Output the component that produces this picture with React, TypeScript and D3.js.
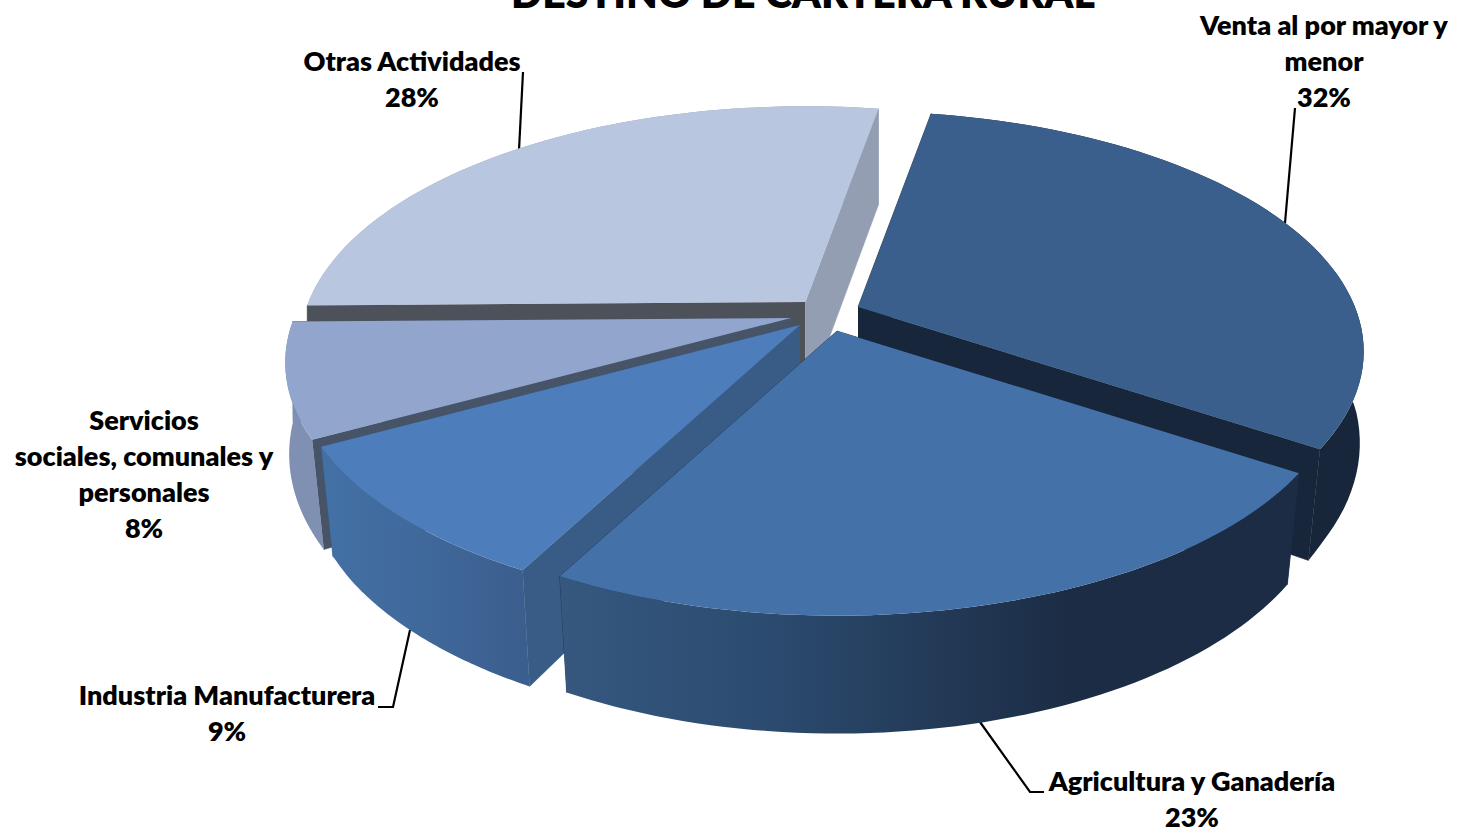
import * as d3 from 'd3';

const categories = ['Venta al por mayor y menor', 'Agricultura y Ganadería', 'Industria Manufacturera', 'Servicios sociales, comunales y personales', 'Otras Actividades'];
const values = [31.5, 23.45, 9.33, 7.7, 28.02];
const titleText = 'DESTINO DE CARTERA RURAL';

// label line breaks as they wrap in the chart
const labelLines = [
  ['Venta al por mayor y', 'menor'],
  ['Agricultura y Ganadería'],
  ['Industria Manufacturera'],
  ['Servicios', 'sociales, comunales y', 'personales'],
  ['Otras Actividades'],
];
const labelPos = [[1324, 26], [1192, 782], [227, 696], [144, 421], [412, 62]];
const leaders = [
  [[1295, 108], [1285, 223]],
  [[1044, 792], [1030, 792], [980, 722]],
  [[378, 707], [393, 707], [410, 630]],
  null,
  [[523, 72], [519, 150]],
];

// where each exploded slice's tip ends up
const apex = [[858, 307], [837, 331], [800, 325], [791, 318], [805.5, 302]];

const topColors = ['#3a5f8c', '#4471a8', '#4d7dba', '#92a6cd', '#b9c6df'];
const outerWall = ['#17263a', 'url(#agri)', 'url(#indu)', '#7f90b2', '#949eb2'];
const startWall = ['#17263a', '#1b2c44', '#395c87', '#475468', '#4d5159'];
const endWall = ['#17263a', '#1b2c44', '#395c87', '#475468', '#949eb2'];
const drawOrder = [4, 3, 0, 2, 1];

const Rx = 497;
const Ry = 232;
const persp = 0.185;
const startDeg = 10;

const wallHeight = d3.scaleLinear().domain([0.845, 1, 1.115, 1.227]).range([96, 100, 115, 125]);
const wallShrink = d3.scaleLinear().domain([1, 1.1]).range([1, 0.975]).clamp(true);

const pie = d3.pie<number>().sort(null).startAngle((startDeg * Math.PI) / 180).endAngle(((startDeg + 360) * Math.PI) / 180);
const arcs = pie(values);
const line = d3.line();

function project(i: number, t: number, bottom: boolean): [number, number] {
  const [ox, oy] = apex[i];
  const s = 1 / (1 + persp * Math.cos(t));
  const dx = Rx * Math.sin(t) * s;
  const dy = -Ry * Math.cos(t) * s;
  if (!bottom) return [ox + dx, oy + dy];
  return [ox + dx * wallShrink(s), oy + dy * wallShrink(s) + wallHeight(s)];
}

function rim(i: number, bottom: boolean): [number, number][] {
  const a = arcs[i];
  const n = 60;
  return d3.range(n + 1).map((k) => project(i, a.startAngle + ((a.endAngle - a.startAngle) * k) / n, bottom));
}

function Slice({ i }: { i: number }) {
  const [ox, oy] = apex[i];
  const a = arcs[i];
  const tip: [number, number] = [ox, oy];
  const tipLow: [number, number] = [ox, oy + 100];
  const top = rim(i, false);
  const low = rim(i, true);
  const outer = <path d={line([...top, ...low.slice().reverse()])!} fill={outerWall[i]} />;
  // back slices show their cut faces over the rim, front slices the other way round
  const isBack = Math.cos((a.startAngle + a.endAngle) / 2) > 0;
  return (
    <g>
      {isBack && outer}
      <path d={line([tip, project(i, a.startAngle, false), project(i, a.startAngle, true), tipLow])!} fill={startWall[i]} stroke={startWall[i]} strokeWidth={0.5} />
      <path d={line([tip, project(i, a.endAngle, false), project(i, a.endAngle, true), tipLow])!} fill={endWall[i]} stroke={endWall[i]} strokeWidth={0.5} />
      {!isBack && outer}
      <path d={line([tip, ...top])!} fill={topColors[i]} />
    </g>
  );
}

export default function App() {
  return (
    <svg width={1458} height={833} viewBox="0 0 1458 833" style={{ position: 'absolute', left: 0, top: 0, background: '#fff' }} role="img" aria-label={categories.join(', ')}>
      <defs>
        <linearGradient id="agri" gradientUnits="userSpaceOnUse" x1={560} x2={1290} y1={0} y2={0}>
          <stop offset="0" stopColor="#36587f" />
          <stop offset="0.3" stopColor="#2b4a6e" />
          <stop offset="0.7" stopColor="#1c2c44" />
          <stop offset="1" stopColor="#1b2c44" />
        </linearGradient>
        <linearGradient id="indu" gradientUnits="userSpaceOnUse" x1={320} x2={530} y1={0} y2={0}>
          <stop offset="0" stopColor="#4371a6" />
          <stop offset="0.6" stopColor="#3f6698" />
          <stop offset="1" stopColor="#3a5e8d" />
        </linearGradient>
      </defs>

      <text x={803} y={8} textAnchor="middle" fontFamily="Lato, sans-serif" fontWeight={800} fontSize={41} fill="#000">{titleText}</text>

      {leaders.map((pts, i) => pts && (
        <path key={i} d={line(pts as [number, number][])!} fill="none" stroke="#000" strokeWidth={2.2} />
      ))}

      {drawOrder.map((i) => <Slice key={i} i={i} />)}

      {labelLines.map((lines, i) => (
        <text key={i} textAnchor="middle" fontFamily="Lato, sans-serif" fontWeight={800} fontSize={27} fill="#000">
          {[...lines, `${Math.round(values[i])}%`].map((l, k) => (
            <tspan key={k} x={labelPos[i][0]} y={labelPos[i][1] + k * 36 + 9}>{l}</tspan>
          ))}
        </text>
      ))}
    </svg>
  );
}
